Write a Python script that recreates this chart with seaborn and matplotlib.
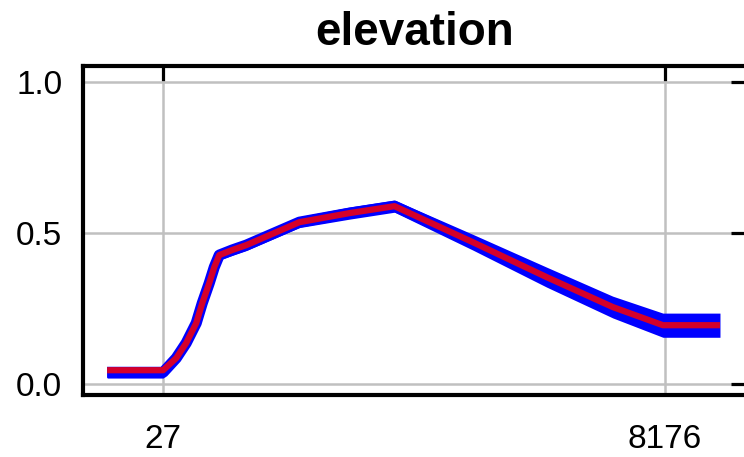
import matplotlib
matplotlib.use("Agg")
import matplotlib.pyplot as plt
import seaborn as sns
import pandas as pd

# data
x_vals = [-884, 27, 239, 401, 564, 662, 775, 857, 938, 1150, 1377, 2240, 3053, 3785,
          5055, 6258, 7332, 8146, 9073]
red_vals = [0.046, 0.046, 0.086, 0.136, 0.202, 0.268, 0.334, 0.387, 0.427, 0.444, 0.460,
            0.536, 0.566, 0.589, 0.470, 0.354, 0.255, 0.195, 0.195]
blue_lo = [0.020, 0.020, 0.070, 0.120, 0.186, 0.252, 0.318, 0.371, 0.411, 0.426, 0.442,
           0.518, 0.546, 0.569, 0.444, 0.321, 0.219, 0.155, 0.155]
blue_hi = [0.058, 0.058, 0.102, 0.152, 0.218, 0.284, 0.350, 0.403, 0.443, 0.462, 0.478,
           0.554, 0.586, 0.609, 0.496, 0.387, 0.291, 0.235, 0.235]
x_ticks = [27, 8176]
y_ticks = [0.0, 0.5, 1.0]
y_tick_labels = ["0.0", "0.5", "1.0"]

df = pd.DataFrame({"x": x_vals, "red": red_vals, "lo": blue_lo, "hi": blue_hi})
df["blue"] = (df["lo"] + df["hi"]) / 2

sns.set_style("white")
plt.rcParams["font.family"] = ["Liberation Sans", "DejaVu Sans"]

fig = plt.figure(figsize=(7.44, 4.57), dpi=100)
ax = fig.add_axes([0.1116, 0.1357, 0.8911, 0.7199])

ax.fill_between(df["x"], df["lo"], df["hi"], color="#0000ff", lw=0, zorder=2)
sns.lineplot(data=df, x="x", y="blue", color="#0000ff", lw=8, ax=ax, zorder=3,
             solid_capstyle="butt")
sns.lineplot(data=df, x="x", y="red", color="#d4002a", lw=4.5, ax=ax, zorder=4,
             solid_capstyle="butt")

ax.set_xlim(-1275, 9496)
ax.set_ylim(-0.036, 1.053)
ax.set_xticks(x_ticks)
ax.set_xticklabels([str(v) for v in x_ticks])
ax.set_yticks(y_ticks)
ax.set_yticklabels(y_tick_labels)
ax.set_xlabel("")
ax.set_ylabel("")

ax.grid(True, color="#c0c0c0", lw=1.8, zorder=1)
ax.set_axisbelow(True)
for s in ax.spines.values():
    s.set_visible(True)
    s.set_color("black")
    s.set_linewidth(3)

ax.tick_params(direction="in", top=True, right=True, length=11, width=2.3,
               color="black", labelsize=24, labelcolor="black")
ax.tick_params(axis="x", pad=21)
ax.tick_params(axis="y", pad=15)

ax.set_title("elevation", fontsize=33, fontweight="bold", color="black", pad=15)

fig.savefig("out.png", dpi=100)
